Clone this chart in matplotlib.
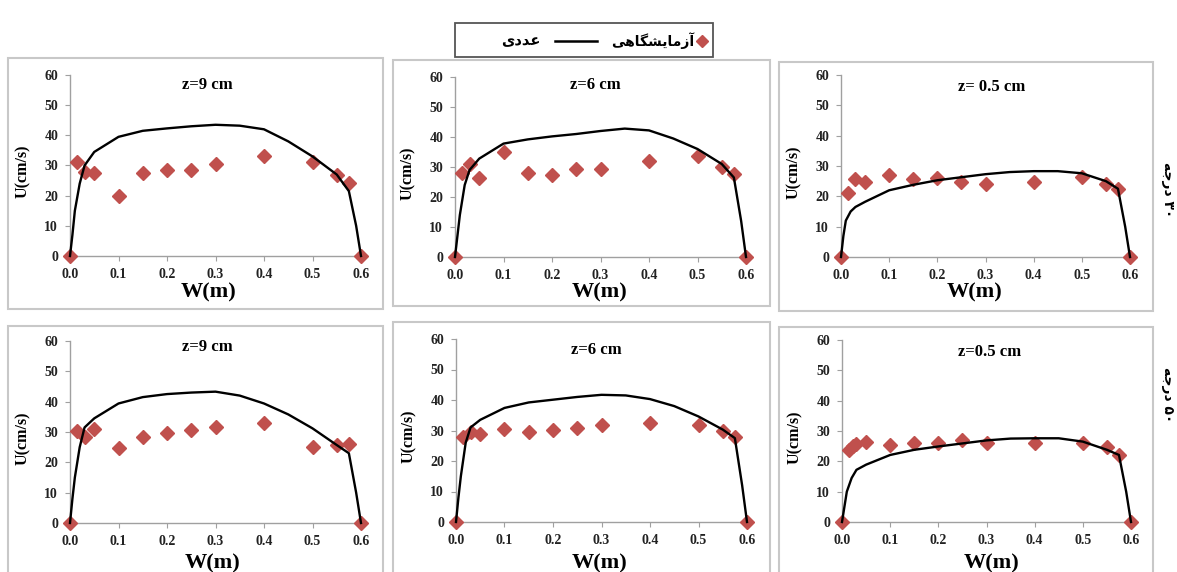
import matplotlib
matplotlib.use("Agg")
import matplotlib.pyplot as plt
from matplotlib.lines import Line2D
from matplotlib.patches import Rectangle

# ---------------- data ----------------
w_num = [0, 0.005, 0.01, 0.02, 0.03, 0.05, 0.1, 0.15, 0.2, 0.25, 0.3, 0.35,
         0.4, 0.45, 0.5, 0.55, 0.575, 0.59, 0.6]
w_exp = [0, 0.015, 0.03, 0.05, 0.1, 0.15, 0.2, 0.25, 0.3, 0.4, 0.5, 0.55, 0.575, 0.6]
w_exp_b3 = [0, 0.015, 0.022, 0.03, 0.05, 0.1, 0.15, 0.2, 0.25, 0.3, 0.4, 0.5,
            0.55, 0.575, 0.6]

titles = ["z=9 cm", "z=6 cm", "z= 0.5 cm", "z=9 cm", "z=6 cm", "z=0.5 cm"]

num_a1 = [0, 7, 15, 24, 30, 34.5, 39.5, 41.5, 42.3, 43, 43.5, 43.2, 42, 38, 33, 27, 21.5, 10, 0]
num_a2 = [0, 7, 14, 24, 29, 32.8, 37.8, 39.2, 40.2, 41, 42, 42.8, 42.2, 39.5, 36, 31, 26.5, 12, 0]
num_a3 = [0, 7, 12, 15, 16.5, 18.2, 22, 23.8, 25.3, 26.3, 27.3, 28, 28.3, 28.3, 27.6, 25, 22.5, 10, 0]
num_b1 = [0, 8, 15, 25, 31.5, 34.5, 39.4, 41.5, 42.5, 43, 43.3, 42, 39.4, 35.8, 31.2, 25.7, 23, 10, 0]
num_b2 = [0, 8, 15, 26, 31, 33.5, 37.4, 39.2, 40.1, 41, 41.7, 41.5, 40.3, 38, 34.6, 30.3, 27.5, 12, 0]
num_b3 = [0, 5, 10, 14.5, 17.2, 18.9, 22.1, 23.8, 24.9, 25.9, 26.9, 27.5, 27.6, 27.6, 26.5, 23.8, 22.1, 10, 0]

exp_a1 = [0, 31, 28, 27.5, 20, 27.5, 28.5, 28.5, 30.5, 33, 31, 27, 24.3, 0]
exp_a2 = [0, 28, 31, 26.5, 35, 28, 27.5, 29.5, 29.5, 32, 33.8, 30, 27.8, 0]
exp_a3 = [0, 21.2, 25.7, 24.6, 27, 25.6, 26, 24.8, 24, 24.6, 26.5, 24, 22.5, 0]
exp_b1 = [0, 30.2, 28.2, 31, 24.7, 28.3, 29.7, 30.7, 31.6, 33.1, 25.2, 25.7, 26, 0]
exp_b2 = [0, 28, 29.5, 29, 30.4, 29.4, 30.3, 30.8, 31.8, 32.6, 31.8, 30, 27.8, 0]
exp_b3 = [0, 23.8, 24.9, 25.8, 26.5, 25.4, 26.2, 26, 27.1, 26, 26, 26, 24.7, 22.1, 0]

x_ticks = [0.0, 0.1, 0.2, 0.3, 0.4, 0.5, 0.6]
x_tick_labels = ["0.0", "0.1", "0.2", "0.3", "0.4", "0.5", "0.6"]
y_ticks = [0, 10, 20, 30, 40, 50, 60]

# Persian labels (visual order, presentation forms)
lbl_exp = "\uFEF0\uFEEB\uFE8E\uFB95\uFEB8\uFEF3\uFE8E\uFEE3\uFEAF\uFE81"   # آزمایشگاهی
lbl_num = "\uFEEF\uFEA9\uFEAA\uFECB"                                      # عددی
side_labels = ["\uFEEA\uFE9F\uFEAD\uFEA9 \u06F3\u06F0",                  # ۳۰ درجه
               "\uFEEA\uFE9F\uFEAD\uFEA9 \u06F5\u06F0"]                  # ۵۰ درجه

# ---------------- layout (pixels) ----------------
W, H = 1177, 572
fig = plt.figure(figsize=(W / 100, H / 100), dpi=100)
fig.patch.set_facecolor("white")

def fx(x):
    return x / W

def fy(y):
    return 1 - y / H

ax_px = [(70, 361, 75, 256), (455, 746, 77, 257), (841, 1130, 75, 257),
         (70, 361, 341, 523), (456, 747, 339, 522), (842, 1131, 340, 522)]
box_px = [(8, 383, 58, 309), (393, 770, 60, 306), (779, 1153, 62, 311),
          (8, 383, 326, 575), (393, 770, 322, 575), (779, 1153, 327, 575)]
title_px = [(207, 85), (595, 85), (992, 87), (207, 347), (596, 350), (990, 352)]
xlabel_px = [(209, 292), (600, 292), (975, 292), (213, 563), (600, 563), (992, 563)]

nums = [num_a1, num_a2, num_a3, num_b1, num_b2, num_b3]
exps = [exp_a1, exp_a2, exp_a3, exp_b1, exp_b2, exp_b3]
wexps = [w_exp, w_exp, w_exp, w_exp, w_exp, w_exp_b3]

red = "#C0504D"
serif = "Liberation Serif"
grey_axis = "#A0A0A0"

for i in range(6):
    x0, x1, y0, y1 = box_px[i]
    fig.patches.append(Rectangle((fx(x0), fy(y1)), fx(x1 - x0), (y1 - y0) / H,
                                 transform=fig.transFigure, fill=False,
                                 edgecolor="#C8C8C8", linewidth=1.5, zorder=0))

    l, r, t, b = ax_px[i]
    ax = fig.add_axes([fx(l), fy(b), fx(r - l), (b - t) / H])
    ax.set_facecolor("none")
    ax.plot(wexps[i], exps[i], linestyle="none", marker="D", markersize=7,
            color=red, clip_on=False, zorder=3)
    ax.plot(w_num, nums[i], color="black", linewidth=1.7, clip_on=False, zorder=4)
    ax.set_xlim(0, 0.6)
    ax.set_ylim(0, 60)
    ax.set_xticks(x_ticks)
    ax.set_xticklabels(x_tick_labels)
    ax.set_yticks(y_ticks)
    for s in ["top", "right"]:
        ax.spines[s].set_visible(False)
    for s in ["left", "bottom"]:
        ax.spines[s].set_color(grey_axis)
        ax.spines[s].set_linewidth(1.0)
    ax.tick_params(axis="both", direction="out", length=3.5, width=0.8,
                   color=grey_axis, labelsize=10, pad=5)
    for lab in ax.get_xticklabels() + ax.get_yticklabels():
        lab.set_fontfamily(serif)
        lab.set_fontweight("bold")
        lab.set_color("#222222")

    fig.text(fx(title_px[i][0]), fy(title_px[i][1]), titles[i], ha="center",
             va="center", fontfamily=serif, fontweight="bold", fontsize=12)
    fig.text(fx(xlabel_px[i][0]), fy(xlabel_px[i][1]), "W(m)", ha="center",
             va="center", fontfamily=serif, fontweight="bold", fontsize=16)
    fig.text(fx(l - 47), fy((t + b) / 2 + 6), "U(cm/s)", ha="center", va="center",
             rotation=90, fontfamily=serif, fontweight="bold", fontsize=11.5)

# legend box
fig.patches.append(Rectangle((fx(455), fy(57)), fx(713 - 455), (57 - 23) / H,
                             transform=fig.transFigure, fill=False,
                             edgecolor="#555555", linewidth=1.3, zorder=0))
fig.lines.append(Line2D([fx(702)], [fy(41)], marker="D", markersize=6,
                        color=red, linestyle="none", transform=fig.transFigure))
fig.text(fx(694), fy(41), lbl_exp, ha="right", va="center",
         fontfamily=["DejaVu Sans"], fontweight="bold", fontsize=10)
fig.lines.append(Line2D([fx(555), fx(597)], [fy(41), fy(41)], color="black",
                        linewidth=1.8, transform=fig.transFigure))
fig.text(fx(541), fy(41), lbl_num, ha="right", va="center",
         fontfamily=["DejaVu Sans"], fontweight="bold", fontsize=10.5)

# side labels (partially cut in the original)
fig.text(fx(1168), fy(190), side_labels[0], ha="center", va="center", rotation=-90,
         fontfamily=["DejaVu Sans"], fontweight="bold", fontsize=10)
fig.text(fx(1168), fy(395), side_labels[1], ha="center", va="center", rotation=-90,
         fontfamily=["DejaVu Sans"], fontweight="bold", fontsize=10)

fig.savefig("out.png", dpi=100, facecolor="white")
